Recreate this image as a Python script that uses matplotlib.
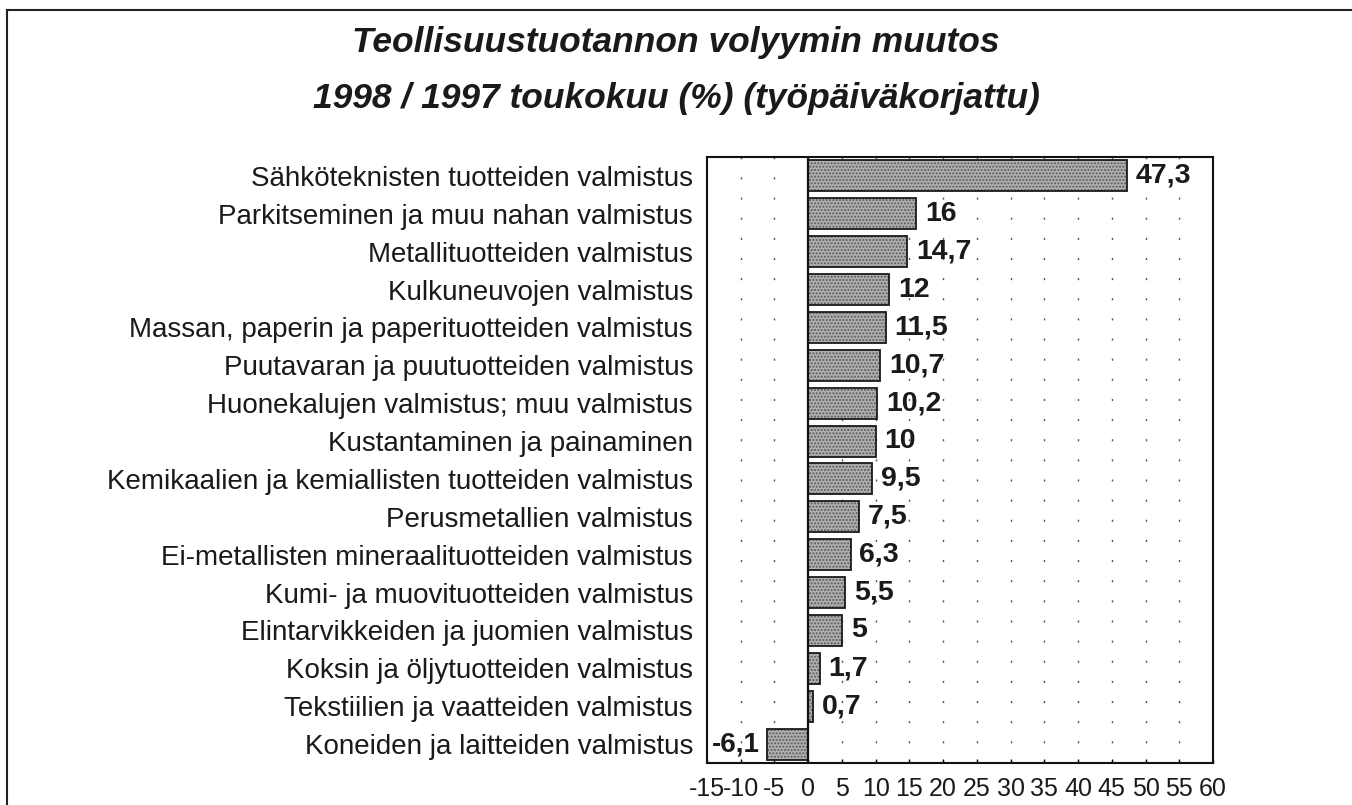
import matplotlib.pyplot as plt
from matplotlib.lines import Line2D

plt.rcParams['font.family'] = ['Liberation Sans', 'DejaVu Sans']

# toimialat ja muutos (%)
categories = [
    "Sähköteknisten tuotteiden valmistus",
    "Parkitseminen ja muu nahan valmistus",
    "Metallituotteiden valmistus",
    "Kulkuneuvojen valmistus",
    "Massan, paperin ja paperituotteiden valmistus",
    "Puutavaran ja puutuotteiden valmistus",
    "Huonekalujen valmistus; muu valmistus",
    "Kustantaminen ja painaminen",
    "Kemikaalien ja kemiallisten tuotteiden valmistus",
    "Perusmetallien valmistus",
    "Ei-metallisten mineraalituotteiden valmistus",
    "Kumi- ja muovituotteiden valmistus",
    "Elintarvikkeiden ja juomien valmistus",
    "Koksin ja öljytuotteiden valmistus",
    "Tekstiilien ja vaatteiden valmistus",
    "Koneiden ja laitteiden valmistus",
]
values = [47.3, 16, 14.7, 12, 11.5, 10.7, 10.2, 10, 9.5, 7.5, 6.3, 5.5, 5, 1.7, 0.7, -6.1]
xticks = list(range(-15, 61, 5))

title1 = "Teollisuustuotannon volyymin muutos"
title2 = "1998 / 1997 toukokuu (%) (työpäiväkorjattu)"

W, H = 1352, 805
fig = plt.figure(figsize=(W / 100, H / 100), dpi=100)
ax = fig.add_axes([707 / W, 1 - 763 / H, (1213 - 707) / W, (763 - 157) / H])

y = list(range(len(categories)))

# pisteviivaruudukko
for t in xticks[1:-1]:
    if t != 0:
        ax.axvline(t, color='#555555', lw=1.0, ls=(0, (1.5, 13)), zorder=1)

# palkit: rasteri + reunaviiva
ax.barh(y, values, height=0.82, color='#b0b0b0', edgecolor='#5a5a5a',
        hatch='.....', lw=0, zorder=2)
ax.barh(y, values, height=0.82, fill=False, edgecolor='#1a1a1a', lw=1.3, zorder=3)
ax.axvline(0, color='#111111', lw=1.6, zorder=4)

for yi, v in zip(y, values):
    s = f"{v:g}".replace('.', ',')
    if v >= 0:
        ax.text(v + 1.3, yi, s, ha='left', va='center', fontsize=20.5,
                fontweight='bold', color='#1a1a1a', zorder=5)
    else:
        ax.text(v - 1.1, yi, s, ha='right', va='center', fontsize=20,
                fontweight='bold', color='#1a1a1a', zorder=5)

ax.set_xlim(-15, 60)
ax.set_ylim(len(categories) - 0.5, -0.5)
ax.set_yticks(y)
ax.set_yticklabels(categories, fontsize=20, color='#1a1a1a')
ax.tick_params(axis='y', length=0, pad=10)
ax.set_xticks(xticks)
ax.set_xticklabels([str(t) for t in xticks], fontsize=18, color='#1a1a1a')
ax.tick_params(axis='x', direction='in', length=3, width=1, pad=10)
for sp in ax.spines.values():
    sp.set_linewidth(1.5)
    sp.set_color('#111111')

fig.text(676 / W, 1 - 52 / H, title1, ha='center', va='baseline', fontsize=25.5,
         fontweight='bold', fontstyle='italic', color='#1a1a1a')
fig.text(676 / W, 1 - 108 / H, title2, ha='center', va='baseline', fontsize=25.5,
         fontweight='bold', fontstyle='italic', color='#1a1a1a')

# ulkokehys (oikea ja ala rajautuvat pois)
fig.add_artist(Line2D([7 / W, 1], [1 - 10 / H, 1 - 10 / H], color='#222222', lw=1.5))
fig.add_artist(Line2D([7 / W, 7 / W], [0, 1 - 10 / H], color='#222222', lw=1.5))

fig.savefig('out.png', dpi=100)
